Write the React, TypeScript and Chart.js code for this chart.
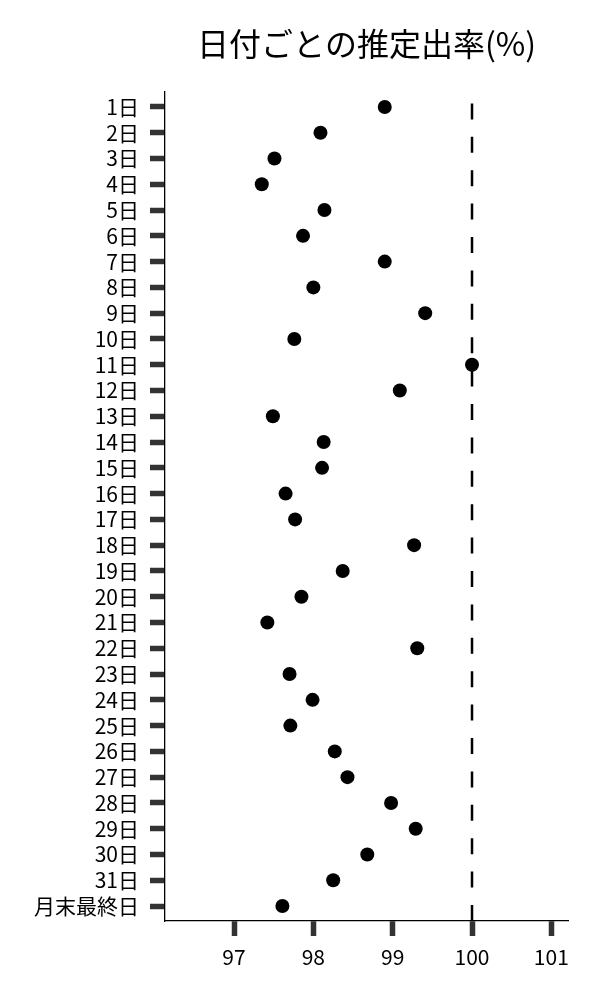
import React, { useEffect, useRef } from "react";
import { Chart, registerables } from "chart.js";

Chart.register(...registerables);

const TITLE = "日付ごとの推定出率(%)";

const DAY_LABELS = [
  "1日", "2日", "3日", "4日", "5日", "6日", "7日", "8日", "9日", "10日",
  "11日", "12日", "13日", "14日", "15日", "16日", "17日", "18日", "19日", "20日",
  "21日", "22日", "23日", "24日", "25日", "26日", "27日", "28日", "29日", "30日",
  "31日", "月末最終日",
];

const RATES = [
  98.90, 98.09, 97.51, 97.35, 98.14, 97.87, 98.90, 98.00, 99.41, 97.76,
  100.0, 99.09, 97.49, 98.13, 98.11, 97.65, 97.77, 99.27, 98.37, 97.85,
  97.42, 99.31, 97.70, 97.99, 97.71, 98.27, 98.43, 98.98, 99.29, 98.68,
  98.25, 97.61,
];

const X_TICKS = [97, 98, 99, 100, 101];
const X_MIN = 96.13;
const X_MAX = 101.21;
const REFERENCE_RATE = 100;

const FONT = "'Noto Sans CJK JP', 'Noto Sans', sans-serif";

export default function App() {
  const canvasRef = useRef<HTMLCanvasElement | null>(null);

  useEffect(() => {
    const canvas = canvasRef.current;
    if (!canvas) return;

    const points = RATES.map((v, i) => ({ x: v, y: i }));

    const titlePlugin = {
      id: "customTitle",
      afterDraw(chart: any) {
        const { ctx, chartArea } = chart;
        ctx.save();
        ctx.font = `32px ${FONT}`;
        ctx.fillStyle = "#000";
        ctx.textAlign = "center";
        ctx.textBaseline = "middle";
        ctx.fillText(TITLE, (chartArea.left + chartArea.right) / 2, 44);
        ctx.restore();
      },
    };

    const refLinePlugin = {
      id: "refLine",
      beforeDatasetsDraw(chart: any) {
        const { ctx, chartArea, scales } = chart;
        const x = scales.x.getPixelForValue(REFERENCE_RATE);
        ctx.save();
        ctx.strokeStyle = "#000";
        ctx.lineWidth = 2.5;
        ctx.setLineDash([16, 17.4]);
        ctx.beginPath();
        ctx.moveTo(x, chartArea.bottom);
        ctx.lineTo(x, chartArea.top);
        ctx.stroke();
        ctx.restore();
      },
    };

    const chart = new Chart(canvas, {
      type: "scatter",
      data: {
        datasets: [
          {
            data: points,
            backgroundColor: "#000",
            borderColor: "#000",
            pointRadius: 7,
            pointHoverRadius: 7,
            borderWidth: 0,
          },
        ],
      },
      options: {
        animation: false,
        responsive: true,
        maintainAspectRatio: false,
        layout: { padding: { top: 92, right: 32, left: 0, bottom: 0 } },
        plugins: {
          legend: { display: false },
          tooltip: { enabled: false },
          title: { display: false },
        },
        scales: {
          x: {
            type: "linear",
            min: X_MIN,
            max: X_MAX,
            afterBuildTicks(scale: any) {
              scale.ticks = X_TICKS.map((v) => ({ value: v }));
            },
            afterFit(scale: any) {
              scale.height = 79;
            },
            border: { display: true, color: "#000", width: 1.3 },
            grid: {
              display: true,
              drawOnChartArea: false,
              drawTicks: true,
              tickLength: 15,
              tickWidth: 5.5,
              tickColor: "#333",
            },
            ticks: {
              color: "#000",
              font: { family: FONT, size: 21 },
              padding: 8,
              maxRotation: 0,
              callback: (v: any) => String(v),
            },
          },
          y: {
            type: "linear",
            reverse: true,
            min: -0.58,
            max: DAY_LABELS.length - 1 + 0.58,
            afterBuildTicks(scale: any) {
              scale.ticks = DAY_LABELS.map((_, i) => ({ value: i }));
            },
            afterFit(scale: any) {
              scale.width = 165;
            },
            border: { display: true, color: "#000", width: 1.3 },
            grid: {
              display: true,
              drawOnChartArea: false,
              drawTicks: true,
              tickLength: 15,
              tickWidth: 5.5,
              tickColor: "#333",
            },
            ticks: {
              color: "#000",
              font: { family: FONT, size: 21 },
              padding: 11,
              autoSkip: false,
              callback: (v: any) => DAY_LABELS[Math.round(Number(v))] ?? "",
            },
          },
        },
      },
      plugins: [titlePlugin, refLinePlugin],
    });

    return () => chart.destroy();
  }, []);

  return (
    <div style={{ position: "fixed", left: 0, top: 0, width: 600, height: 1000, background: "#fff" }}>
      <canvas ref={canvasRef} />
    </div>
  );
}
